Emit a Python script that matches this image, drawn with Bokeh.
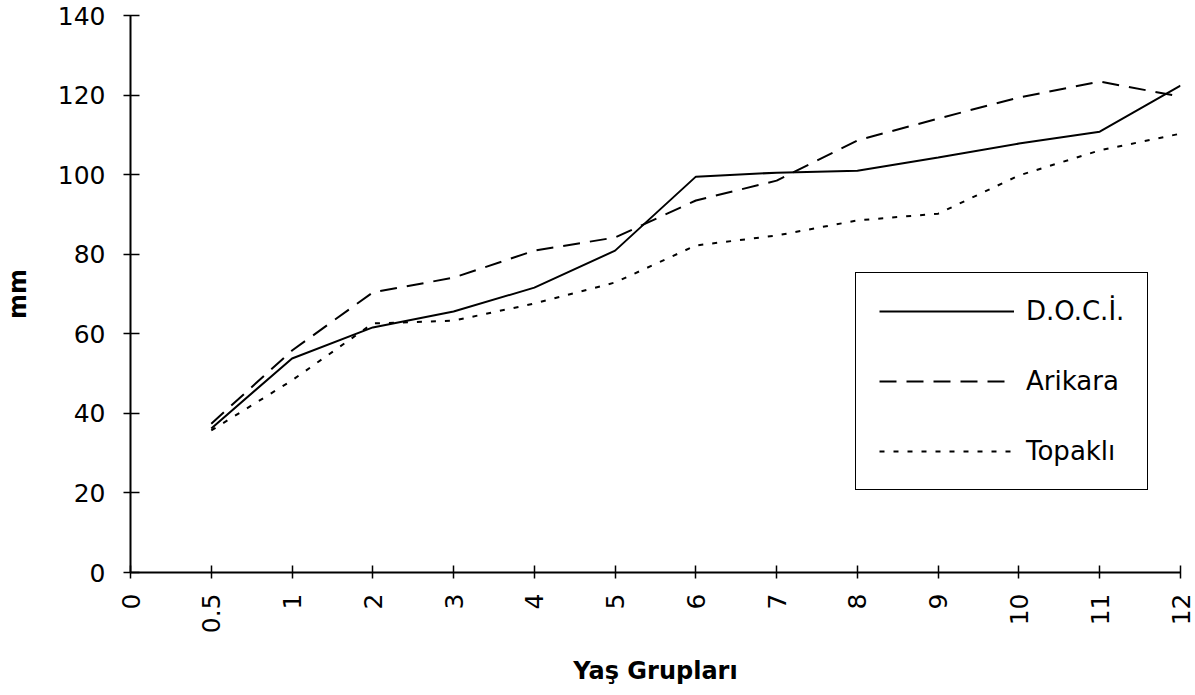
import math
from bokeh.plotting import figure
from bokeh.models import (ColumnDataSource, Range1d, FixedTicker, Legend, LegendItem)
from bokeh.embed import file_html
from bokeh.resources import INLINE

# ---- data ----
categories = ["0", "0.5", "1", "2", "3", "4", "5", "6", "7", "8", "9", "10", "11", "12"]
age_groups = ["0.5", "1", "2", "3", "4", "5", "6", "7", "8", "9", "10", "11", "12"]
doci = [36.2, 53.8, 61.6, 65.6, 71.6, 80.9, 99.5, 100.5, 101.0, 104.3, 107.8, 110.8, 122.4]
arikara = [37.4, 55.8, 70.4, 74.1, 80.9, 84.2, 93.5, 98.5, 108.6, 114.1, 119.4, 123.4, 119.6]
topakli = [35.7, 48.3, 62.6, 63.3, 67.6, 72.9, 82.2, 84.7, 88.5, 90.2, 99.8, 106.1, 110.3]
y_ticks = [0, 20, 40, 60, 80, 100, 120, 140]
series_names = ["D.O.C.İ.", "Arikara", "Topaklı"]

FONT = "DejaVu Sans"

x_idx = [categories.index(c) for c in age_groups]
src = ColumnDataSource(dict(x=x_idx, doci=doci, arikara=arikara, topakli=topakli))

p = figure(frame_width=1050, frame_height=557, output_backend="svg", toolbar_location=None,
           x_range=Range1d(0, len(categories) - 1), y_range=Range1d(0, 140),
           min_border_left=130, min_border_top=15, min_border_right=15, min_border_bottom=112,
           background_fill_color="white", border_fill_color="white")
p.outline_line_color = None
p.xgrid.visible = False
p.ygrid.visible = False

# x axis
xa = p.xaxis[0]
xa.ticker = FixedTicker(ticks=list(range(len(categories))))
xa.major_label_overrides = {i: c for i, c in enumerate(categories)}
xa.major_label_orientation = math.pi / 2
xa.major_label_text_font = FONT
xa.major_label_text_font_size = "25px"
xa.major_label_text_color = "black"
xa.major_label_standoff = 15
xa.major_tick_in = 7
xa.major_tick_out = 6
xa.minor_tick_line_color = None
xa.axis_line_width = 2
xa.major_tick_line_width = 1.5
xa.axis_label = "Yaş Grupları"
xa.axis_label_text_font = FONT
xa.axis_label_text_font_style = "bold"
xa.axis_label_text_font_size = "24px"
xa.axis_label_text_color = "black"
xa.axis_label_standoff = 21

# y axis
ya = p.yaxis[0]
ya.ticker = FixedTicker(ticks=y_ticks)
ya.major_label_text_font = FONT
ya.major_label_text_font_size = "25px"
ya.major_label_text_color = "black"
ya.major_label_standoff = 18
ya.major_tick_in = 9
ya.major_tick_out = 7
ya.minor_tick_line_color = None
ya.axis_line_width = 2
ya.major_tick_line_width = 1.5
ya.axis_label = "mm"
ya.axis_label_text_font = FONT
ya.axis_label_text_font_style = "bold"
ya.axis_label_text_font_size = "24px"
ya.axis_label_text_color = "black"
ya.axis_label_standoff = 23

r1 = p.line("x", "doci", source=src, line_color="black", line_width=2)
r2 = p.line("x", "arikara", source=src, line_color="black", line_width=2, line_dash="17 10")
r3 = p.line("x", "topakli", source=src, line_color="black", line_width=2, line_dash="5 9")

legend = Legend(items=[LegendItem(label=series_names[0], renderers=[r1]),
                       LegendItem(label=series_names[1], renderers=[r2]),
                       LegendItem(label=series_names[2], renderers=[r3])],
                location=(725, 82), orientation="vertical")
legend.label_text_font = FONT
legend.label_text_font_size = "26px"
legend.label_text_color = "black"
legend.glyph_width = 135
legend.glyph_height = 30
legend.label_height = 30
legend.label_standoff = 12
legend.spacing = 40
legend.padding = 23
legend.margin = 0
legend.border_line_color = "black"
legend.border_line_width = 1.5
legend.border_line_alpha = 1.0
legend.background_fill_color = "white"
legend.background_fill_alpha = 1.0
p.add_layout(legend, "center")

open("out.html", "w").write(file_html(p, INLINE))
